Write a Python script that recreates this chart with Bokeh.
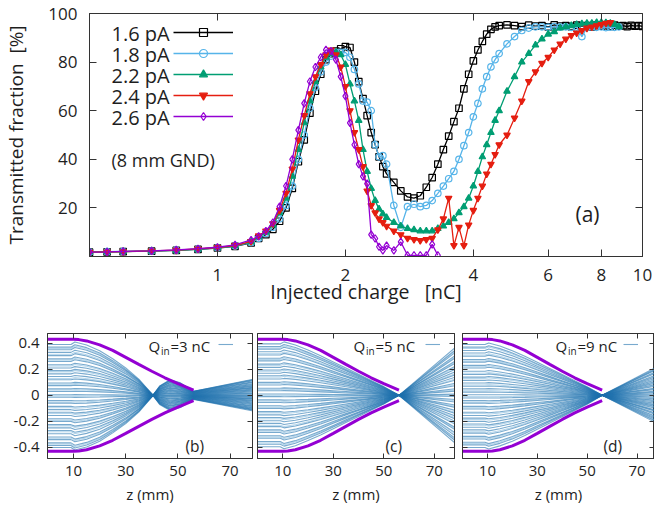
from bokeh.plotting import figure
from bokeh.models import (Range1d, FixedTicker, LinearAxis, LogAxis, Legend, LegendItem,
                          Label, PrintfTickFormatter, CustomJSTickFormatter)
from bokeh.core.properties import value
from bokeh.layouts import column, row
from bokeh.embed import file_html
from bokeh.resources import INLINE

FONT = "Open Sans"
AX = "#333333"
TXT = "#1e1e1e"
PURPLE = "#9400d3"

# ---------------- top panel data ----------------
CHARGE = [0.45, 0.5, 0.55, 0.6, 0.7, 0.8, 0.9, 1.0, 1.1, 1.2,
          1.25, 1.3, 1.35, 1.4, 1.45, 1.5, 1.55, 1.6, 1.65, 1.7, 1.75, 1.8, 1.85, 1.9, 1.95,
          2.0, 2.05, 2.1, 2.15, 2.2, 2.25, 2.3, 2.35, 2.4, 2.45, 2.5,
          2.6, 2.7, 2.8, 2.9, 3.0, 3.1, 3.2, 3.3, 3.4, 3.5, 3.6, 3.7, 3.8, 3.9, 4.0,
          4.1, 4.2, 4.3, 4.4, 4.5, 4.6,
          4.8, 5.0, 5.2, 5.4, 5.6, 5.8, 6.0, 6.2, 6.4, 6.6, 6.8, 7.0, 7.2, 7.4, 7.6,
          7.8, 8.0, 8.2, 8.4, 8.6, 8.8, 9.0, 9.2, 9.4, 9.6, 9.8, 10.0]

T_16 = [1.8, 1.8, 1.9, 2.0, 2.2, 2.5, 2.9, 3.5, 4.2, 5.6,
        7.5, 9.0, 11.2, 14.5, 20, 28, 39, 48, 59, 68, 75, 81, 83.5, 84.5, 85.5,
        86.4, 86, 80, 72, 65, 58, 51, 46, 41, 37, 34,
        30.5, 27, 24.5, 24, 25, 28.5, 32.5, 38, 44, 49.5, 55.5, 61, 69, 75, 80.5,
        85, 88.5, 91.5, 93.5, 94.5, 95,
        95.3, 95, 94.6, 95.2, 94.8, 95, 94.5, 95.3, 94.8, 95, 94.6, 95.2, 94.8, 95, 94.5,
        95.2, 94.8, 95, 94.7, 95.2, 94.8, 95, 94.6, 95.1, 94.8, 95, 94.7]

T_18 = [1.9, 1.8, 2.0, 2.1, 2.2, 2.6, 3.0, 3.6, 4.3, 5.8,
        7.5, 9.5, 12, 15.5, 21, 29, 40, 50, 61, 69.5, 76, 80, 82.5, 84, 84,
        84, 82, 77, 71, 64, 63.5, 60, 46, 41, 41.5, 38,
        21, 12, 20.5, 21.5, 20.5, 21, 23, 26, 29, 32, 35, 40, 45.6, 51, 57.5,
        63, 69, 74, 78, 81, 83.5,
        87.5, 90.5, 93, 94, 94.5, 94.5, 94.3, 94.6, 94.4, 94.5, 94.3, 94.4, 90.5, 94.2, 94.5,
        94.3, 94.5, 94.2, 94.4, 94.3, 94.5]

T_22 = [1.8, 1.9, 1.9, 2.0, 2.3, 2.5, 3.0, 3.6, 4.4, 6.0,
        8, 10, 13, 18, 24, 33, 44, 55, 64, 72, 78, 82, 83.5, 84, 83,
        79, 71, 64, 56, 44, 35, 28, 23, 19.5, 17.5, 16,
        14, 12.5, 11.5, 11, 10.5, 10.5, 10.5, 11.5, 12.5, 14, 15.5, 18, 20.5, 24, 29,
        35, 41, 46, 51, 56, 60,
        68, 74, 80, 83.5, 87, 89.5, 91.5, 92.5, 94, 94.5, 95, 95.5, 95.8, 96, 96,
        96.3, 96.3, 96.2, 96, 95.5, 94.5]

T_24 = [1.8, 1.8, 1.9, 2.0, 2.3, 2.6, 3.1, 3.7, 4.5, 6.2,
        8.5, 10.5, 13.5, 19, 26, 36, 48, 58, 67, 74, 79, 83, 85, 83, 78,
        70, 60, 51, 44, 37, 27, 21, 18, 15.5, 14, 12.5,
        10.5, 9, 7.5, 7, 6.6, 7, 7.5, 11, 15.5, 24, 4.5, 12, 4.5, 13, 19,
        24, 29, 34, 38, 42, 46,
        50, 57, 64, 72, 76, 79.5, 82, 85, 87.5, 89.5, 91, 92, 93, 94, 94.5,
        95, 95.5, 96, 96.3]

T_26 = [1.8, 1.8, 1.9, 2.1, 2.3, 2.7, 3.2, 3.8, 4.8, 6.8,
        8.3, 10.5, 14, 20.5, 29, 40, 52, 63, 72, 78, 82, 85, 84.5, 81, 74,
        66, 55, 46, 38, 33, 30, 9, 7.4, 4, 2.5, 4.5,
        2.5, 6, 0.5, 0.5, 0.5, 0.5, 5, 0.5]

SERIES = [T_16, T_18, T_22, T_24, T_26]
LABELS = ["1.6 pA", "1.8 pA", "2.2 pA", "2.4 pA", "2.6 pA"]
X_TICKS = [1, 2, 4, 6, 8, 10]
Y_TICKS = [20, 40, 60, 80, 100]

# ---------------- bottom panels data ----------------
Z_TICKS = [10, 30, 50, 70]
R_TICKS = [-0.4, -0.2, 0, 0.2, 0.4]
Q_VALUES = [3, 5, 9]
TAGS = ["(b)", "(c)", "(d)"]

ENV_Z = [0, 10, 12, 15, 20, 25, 30, 35, 40, 45, 50, 56]
ENV_R = [0.43, 0.43, 0.428, 0.418, 0.388, 0.345, 0.292, 0.238, 0.185, 0.135, 0.09, 0.04]

# starting radii of the dark and the light trajectories
R0_B = [-0.40, -0.385, -0.365, -0.34, -0.32, -0.295, -0.27, -0.25, -0.225, -0.2, -0.18, -0.155,
        -0.13, -0.11, -0.085, -0.06, -0.04, -0.015, 0.005, 0.03, 0.05, 0.075, 0.095, 0.12,
        0.145, 0.165, 0.19, 0.21, 0.235, 0.26, 0.28, 0.305, 0.33, 0.35, 0.37, 0.39]
R1_B = [-0.375, -0.33, -0.28, -0.235, -0.19, -0.14, -0.095, -0.05, -0.005, 0.04, 0.085,
        0.13, 0.18, 0.225, 0.27, 0.315, 0.36]
R0_C = [-0.395, -0.375, -0.355, -0.33, -0.31, -0.285, -0.265, -0.24, -0.215, -0.195, -0.17, -0.15,
        -0.125, -0.1, -0.08, -0.055, -0.035, -0.01, 0.01, 0.035, 0.055, 0.08, 0.1, 0.125,
        0.15, 0.17, 0.195, 0.215, 0.24, 0.265, 0.285, 0.31, 0.335, 0.355, 0.375, 0.395]
R1_C = [-0.365, -0.32, -0.275, -0.23, -0.18, -0.135, -0.09, -0.045, 0.0, 0.045, 0.09,
        0.14, 0.185, 0.23, 0.275, 0.32, 0.365]
R0_D = [-0.40, -0.38, -0.36, -0.335, -0.315, -0.29, -0.265, -0.245, -0.22, -0.2, -0.175, -0.155,
        -0.13, -0.105, -0.085, -0.06, -0.04, -0.02, 0.005, 0.025, 0.05, 0.07, 0.095, 0.115,
        0.14, 0.16, 0.185, 0.21, 0.23, 0.255, 0.275, 0.3, 0.325, 0.345, 0.37, 0.39]
R1_D = [-0.37, -0.325, -0.28, -0.23, -0.185, -0.14, -0.095, -0.05, -0.01, 0.035, 0.08,
        0.13, 0.17, 0.22, 0.265, 0.31, 0.36]

# relative beam-size profile along z
Z_B = [0, 9, 10.5, 15, 20, 25, 30, 35, 40, 43, 47, 51, 56, 80]
F_B = [1.0, 1.0, 1.05, 0.99, 0.88, 0.72, 0.54, 0.32, 0.03, -0.18, -0.3, -0.24, -0.08, -0.32]
Z_C = [0, 9, 10.5, 15, 20, 25, 30, 35, 40, 45, 50, 56, 80]
F_C = [1.0, 1.0, 1.04, 0.98, 0.88, 0.77, 0.65, 0.53, 0.41, 0.29, 0.17, 0.0, -1.0]
Z_D = [0, 9, 10.5, 15, 20, 25, 30, 35, 40, 45, 50, 56, 80]
F_D = [1.0, 1.0, 1.03, 0.97, 0.88, 0.77, 0.65, 0.53, 0.41, 0.29, 0.17, 0.0, -0.6]


def style_axis(ax, size):
    ax.axis_line_color = AX
    ax.major_tick_line_color = AX
    ax.minor_tick_line_color = None
    ax.major_label_text_font = FONT
    ax.major_label_text_font_size = size
    ax.major_label_text_color = TXT
    ax.axis_label_text_font = FONT
    ax.axis_label_text_font_style = "normal"
    ax.axis_label_text_color = TXT
    ax.minor_tick_in = 0
    ax.minor_tick_out = 0
    ax.major_tick_out = 0


def mirror(fig, cls, side, ticks, tick_len):
    ax = cls(ticker=FixedTicker(ticks=ticks, minor_ticks=[]),
             formatter=CustomJSTickFormatter(code="return ''"),
             major_tick_in=tick_len, major_tick_out=0, minor_tick_in=0, minor_tick_out=0,
             major_label_standoff=0, major_label_text_font_size="0px",
             axis_line_color=AX, major_tick_line_color=AX)
    fig.add_layout(ax, side)


def screen_label(fig, x, y, text, size, **kw):
    fig.add_layout(Label(x=x, y=y, x_units="screen", y_units="screen", text=text,
                         text_font=FONT, text_font_size=size, text_baseline="middle",
                         text_color=TXT, **kw))


# ---------------- top figure ----------------
p = figure(width=654, height=320, x_axis_type="log", x_range=Range1d(0.5, 10),
           y_range=Range1d(0, 100), output_backend="svg", toolbar_location=None,
           min_border_left=86, min_border_right=12, min_border_top=13, min_border_bottom=64)
p.grid.visible = False
p.outline_line_color = AX
p.background_fill_color = "white"

xa = p.xaxis[0]
xa.ticker = FixedTicker(ticks=X_TICKS, minor_ticks=[])
xa.formatter = PrintfTickFormatter(format="%d")
style_axis(xa, "17px")
xa.major_tick_in = 7
xa.major_label_standoff = 12
xa.axis_label = "Injected charge \u00a0 [nC]"
xa.axis_label_text_font_size = "19.5px"
xa.axis_label_standoff = -6

ya = p.yaxis[0]
ya.ticker = FixedTicker(ticks=Y_TICKS, minor_ticks=[])
style_axis(ya, "17px")
ya.major_tick_in = 7
ya.major_label_standoff = 12
ya.axis_label = "Transmitted fraction \u00a0[%]"
ya.axis_label_text_font_size = "19px"
ya.axis_label_standoff = 16

mirror(p, LogAxis, "above", [1, 2, 4, 6, 8], 7)
mirror(p, LinearAxis, "right", [20, 40, 60, 80], 7)

STYLES = [("#000000", "square", False),
          ("#56b4e9", "circle", False),
          ("#009e73", "triangle", True),
          ("#e51e10", "inverted_triangle", True),
          ("#9400d3", "diamond", False)]

items = []
for ys, lab, (col, mk, filled) in zip(SERIES, LABELS, STYLES):
    xs = CHARGE[:len(ys)]
    ln = p.line(xs, ys, line_color=col, line_width=1.3)
    sc = p.scatter(xs, ys, marker=mk, size=6.5 if mk != "diamond" else 7.5,
                   line_color=col, line_width=1.2,
                   fill_color=col if filled else "white", fill_alpha=1.0 if filled else 0.0)
    items.append(LegendItem(label=value(""), renderers=[ln, sc]))

leg = Legend(items=items, location=(84, 130), orientation="vertical", padding=0, margin=0,
             spacing=1, glyph_width=60, glyph_height=20, label_width=0, label_height=20,
             label_standoff=0, label_text_font_size="8px",
             background_fill_alpha=0, border_line_alpha=0)
p.add_layout(leg)

for i, lab in enumerate(LABELS):
    screen_label(p, 22, 223.5 - 21 * i, lab, "20px")
screen_label(p, 22, 97, "(8 mm GND)", "18px")
screen_label(p, 486, 43, "(a)", "21px")


# ---------------- bottom panels ----------------
def panel(width, mbl, mbr, zmax, r0, r1, zn, fn, qval, tag, first, qx, tagx, legx):
    f = figure(width=width, height=193, x_range=Range1d(0, zmax), y_range=Range1d(-0.485, 0.475),
               output_backend="svg", toolbar_location=None,
               min_border_left=mbl, min_border_right=mbr, min_border_top=13, min_border_bottom=55)
    f.grid.visible = False
    f.outline_line_color = AX
    f.background_fill_color = "white"
    f.multi_line([zn] * len(r1), [[r * v for v in fn] for r in r1],
                 line_color="#7db8de", line_alpha=0.6, line_width=1.0)
    tr = f.multi_line([zn] * len(r0), [[r * v for v in fn] for r in r0],
                      line_color="#1f72ad", line_alpha=0.6, line_width=1.1)
    f.line(ENV_Z, ENV_R, line_color=PURPLE, line_width=3)
    f.line(ENV_Z, [-v for v in ENV_R], line_color=PURPLE, line_width=3)

    bx = f.xaxis[0]
    bx.ticker = FixedTicker(ticks=Z_TICKS, minor_ticks=[])
    style_axis(bx, "15px")
    bx.major_tick_in = 5
    bx.major_label_standoff = 7
    bx.axis_label = "z (mm)"
    bx.axis_label_text_font_size = "15px"
    bx.axis_label_standoff = 5

    by = f.yaxis[0]
    by.ticker = FixedTicker(ticks=R_TICKS, minor_ticks=[])
    style_axis(by, "15px")
    by.major_tick_in = 5
    if first:
        by.formatter = PrintfTickFormatter(format="%g")
        by.major_label_standoff = 8
    else:
        by.formatter = CustomJSTickFormatter(code="return ''")
        by.major_label_text_font_size = "0px"
        by.major_label_standoff = 0

    mirror(f, LinearAxis, "above", Z_TICKS, 5)
    mirror(f, LinearAxis, "right", R_TICKS, 5)

    screen_label(f, qx, 113, "Q", "15px")
    screen_label(f, qx + 12.5, 108, "in", "10px")
    screen_label(f, qx + 22, 113, "=%d nC" % qval, "15px")
    screen_label(f, tagx, 13, tag, "15.5px")
    lg = Legend(items=[LegendItem(label=value(""), renderers=[tr])], location=(legx, 109),
                padding=0, margin=0, spacing=0, glyph_width=15, glyph_height=10,
                label_width=0, label_height=10, label_standoff=0, label_text_font_size="6px",
                background_fill_alpha=0, border_line_alpha=0)
    f.add_layout(lg)
    return f


pb = panel(254, 47, 2, 78.6, R0_B, R1_B, Z_B, F_B, Q_VALUES[0], TAGS[0], True, 101, 138, 171)
pc = panel(202, 3, 2, 78, R0_C, R1_C, Z_C, F_C, Q_VALUES[1], TAGS[1], False, 96, 128, 168)
pd = panel(198, 6, 0, 77, R0_D, R1_D, Z_D, F_D, Q_VALUES[2], TAGS[2], False, 93, 141, 161)

layout = column(p, row(pb, pc, pd))
open("out.html", "w").write(file_html(layout, INLINE))
